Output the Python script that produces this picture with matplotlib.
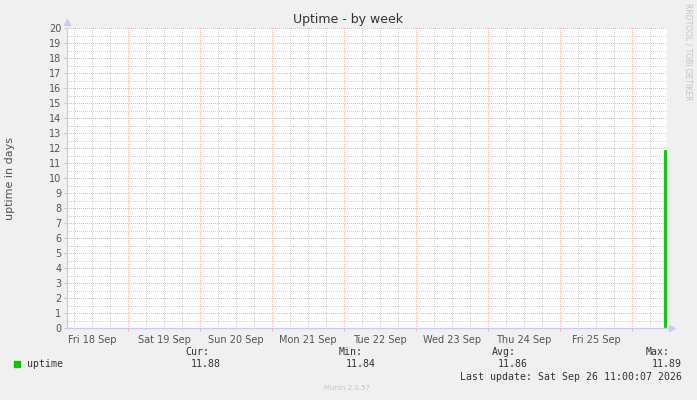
import datetime as dt

import numpy as np
import matplotlib
matplotlib.use("Agg")
import matplotlib.pyplot as plt
import matplotlib.dates as mdates
from matplotlib.patches import Rectangle

# data
window_start = "2026-09-18 03:40"
window_end = "2026-09-26 11:40"
sample_times = ["2026-09-26 10:40", "2026-09-26 11:00", "2026-09-26 11:20"]
sample_values = [11.84, 11.89, 11.88]
legend_name = "uptime"
stats_labels = ["Cur:", "Min:", "Avg:", "Max:"]
stats_values = ["11.88", "11.84", "11.86", "11.89"]
last_update = "Last update: Sat Sep 26 11:00:07 2026"

W, H = 697, 400
BG = "#F0F0F0"
GREEN = "#00CC00"
MINOR = "#D2D2D2"
MAJOR = "#F2B4B4"
AXIS = "#C8CCF4"
TXT = "#555555"


def px(x, y):
    return x / W, 1 - y / H


def parse(s):
    return dt.datetime.strptime(s, "%Y-%m-%d %H:%M")


fig = plt.figure(figsize=(W / 100, H / 100), dpi=100, facecolor=BG)
ax = fig.add_axes([67 / W, 72 / H, 600 / W, 300 / H])
ax.set_facecolor("white")

t0, t1 = mdates.date2num(parse(window_start)), mdates.date2num(parse(window_end))
ax.set_xlim(t0, t1)
ax.set_ylim(0, 20)

# grid like rrdtool: gray minor dots, red major dots
dots = (0, (1, 2))
grid_kw = dict(lw=0.72, linestyles=dots, antialiased=False)
six_h = mdates.date2num(
    [parse(window_start[:10] + " 00:00") + dt.timedelta(hours=6 * i) for i in range(40)]
)
six_h = six_h[(six_h > t0) & (six_h < t1)]
days = six_h[np.isclose((six_h - np.floor(six_h)), 0)]
ax.vlines(six_h, 0, 20.15, colors=MINOR, zorder=1, clip_on=False, **grid_kw)
ax.hlines(np.arange(0.5, 20, 1.0), t0, t1, colors=MINOR, zorder=1, **grid_kw)
ax.vlines(days, 0, 20.15, colors=MAJOR, zorder=2, clip_on=False, **grid_kw)
ax.hlines(np.arange(1, 21, 1), t0, t1, colors=MAJOR, zorder=2, **grid_kw)

# series
tt = mdates.date2num([parse(s) for s in sample_times])
ax.fill_between(tt, 0, sample_values, step="post", color=GREEN, ec=GREEN, lw=0.6, zorder=3)

# axes
for s in ["top", "right"]:
    ax.spines[s].set_visible(False)
for s in ["left", "bottom"]:
    ax.spines[s].set_color(AXIS)
    ax.spines[s].set_linewidth(1.0)
    ax.spines[s].set_zorder(4)
ax.plot([0], [1.02], marker="^", ms=4, color=AXIS, transform=ax.transAxes, clip_on=False)
ax.plot([1.008], [0], marker=">", ms=4, color=AXIS, transform=ax.transAxes, clip_on=False)

ax.set_yticks(np.arange(0, 21, 1))
ax.tick_params(axis="y", length=2, width=0.7, color=MAJOR, labelsize=7, labelcolor=TXT, pad=2)
ax.xaxis.set_major_locator(mdates.HourLocator(byhour=12))
ax.xaxis.set_minor_locator(mdates.DayLocator())
ax.xaxis.set_major_formatter(mdates.DateFormatter("%a %d %b"))
ax.tick_params(axis="x", which="major", length=0, labelsize=7, labelcolor=TXT, pad=5)
ax.tick_params(axis="x", which="minor", length=2.5, width=0.7, color=MAJOR)

fig.text(*px(348, 19), "Uptime - by week", ha="center", va="center", fontsize=9, color="#333333")
fig.text(*px(10, 178), "uptime in days", ha="center", va="center", rotation=90, fontsize=8, color=TXT)
fig.text(*px(688, 52), "RRDTOOL / TOBI OETIKER", ha="center", va="center", rotation=270,
         fontsize=5.5, color="#C4C4C4")
fig.text(*px(347, 388), "Munin 2.0.57", ha="center", va="center", fontsize=5, color="#C4C4C4")

# legend block
mono = dict(family="DejaVu Sans Mono", fontsize=7.1, color="#333333", va="center")
fig.patches.append(Rectangle(px(14, 367), 6 / W, 6 / H, transform=fig.transFigure,
                             color=GREEN, figure=fig))
fig.text(*px(27, 364), legend_name, ha="left", **mono)
label_right = [209, 363, 516, 670]
value_right = [221, 376, 528, 682]
for lab, val, xl, xv in zip(stats_labels, stats_values, label_right, value_right):
    fig.text(*px(xl, 352), lab, ha="right", **mono)
    fig.text(*px(xv, 364), val, ha="right", **mono)
fig.text(*px(682, 377), last_update, ha="right", **mono)

fig.savefig("out.png", dpi=100, facecolor=BG)
